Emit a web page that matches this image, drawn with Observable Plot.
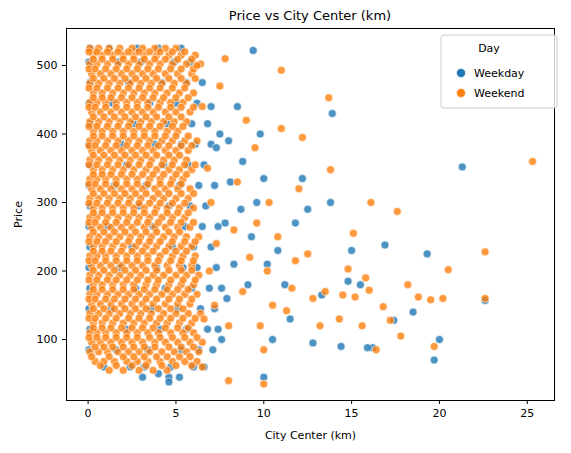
<!DOCTYPE html>
<html><head><meta charset="utf-8">
<script src="https://cdn.jsdelivr.net/npm/d3@7"></script>
<script src="https://cdn.jsdelivr.net/npm/@observablehq/plot@0.6"></script>
<style>body{margin:0;background:#fff;font-family:"DejaVu Sans",sans-serif}</style>
</head><body><div id="chart"></div>
<script>
const categories = ["Weekday", "Weekend"];
const colors = ["#1f77b4", "#ff7f0e"];
const xTicks = [0, 5, 10, 15, 20, 25];
const yTicks = [100, 200, 300, 400, 500];

// Dense weekday cloud: [price, [distances...]]
const weekdayRows = [
  [45,[3.1,4.6,5.2]],[60,[0.9,2.4,3.2,4.7,6.0,6.6]],[85,[0.05,1.6,3.4,5.3,6.3,7.1]],
  [115,[0.1,2.2,4.1,5.6,6.8,7.4]],[145,[0.05,1.3,3.6,5.1,6.4,7.2]],[175,[0.1,2.7,4.4,5.9,6.9,7.6]],
  [205,[0.05,1.8,3.9,5.4,6.2,7.3]],[235,[0.1,2.5,4.8,6.0,7.0]],[265,[0.05,1.1,3.7,5.5,6.5,7.4]],
  [295,[0.1,2.9,4.6,5.8,6.7]],[325,[0.05,1.5,3.3,5.2,6.3,7.2]],[355,[0.1,2.2,4.3,5.7,6.6]],
  [385,[0.05,1.9,3.8,5.3,6.1,7.0]],[415,[0.1,2.6,4.5,5.9,6.8]],[445,[0.05,1.4,3.5,5.0,6.2]],
  [475,[0.1,2.3,4.2,5.6,6.5]],[505,[0.05,1.7,3.0,4.9,5.8]],[525,[0.1,1.2,2.8,4.0,5.3]]
];
// Dense weekend cloud: [price, [distances...]]
const weekendRows = [
  [55,[1.2,2.0,2.9,3.7,4.5]],[68,[0.4,0.9,1.5,2.2,2.8,3.4,4.1,4.8,5.5,6.2]],
  [82,[0.1,0.6,1.1,1.7,2.3,2.9,3.5,4.2,4.9,5.6,6.3]],[96,[0.2,0.7,1.3,1.9,2.5,3.1,3.8,4.4,5.1,5.8,6.5]],
  [110,[0.1,0.5,1.0,1.6,2.2,2.8,3.4,4.0,4.7,5.4,6.0]],[124,[0.3,0.8,1.4,2.0,2.6,3.2,3.9,4.5,5.2,5.9]],
  [138,[0.1,0.6,1.2,1.8,2.4,3.0,3.6,4.3,5.0,5.7,6.4]],[152,[0.2,0.7,1.3,1.9,2.5,3.1,3.7,4.4,5.1,5.8]],
  [166,[0.1,0.5,1.1,1.7,2.3,2.9,3.5,4.2,4.8,5.5,6.2]],[180,[0.3,0.8,1.4,2.0,2.6,3.3,3.9,4.6,5.3,6.0]],
  [194,[0.1,0.6,1.2,1.8,2.4,3.0,3.7,4.3,5.0,5.6,6.3]],[208,[0.2,0.7,1.3,1.9,2.5,3.1,3.8,4.5,5.2,5.9]],
  [222,[0.1,0.5,1.0,1.6,2.2,2.8,3.4,4.1,4.8,5.4,6.1]],[236,[0.3,0.8,1.4,2.0,2.7,3.3,3.9,4.6,5.3,5.9]],
  [250,[0.1,0.6,1.2,1.8,2.4,3.0,3.6,4.3,4.9,5.6,6.3]],[264,[0.2,0.7,1.3,1.9,2.5,3.2,3.8,4.4,5.1,5.8]],
  [278,[0.1,0.5,1.1,1.7,2.3,2.9,3.5,4.2,4.8,5.5]],[292,[0.3,0.8,1.4,2.0,2.6,3.2,3.9,4.5,5.2,6.0]],
  [306,[0.1,0.6,1.2,1.8,2.4,3.0,3.7,4.3,5.0,5.7]],[320,[0.2,0.7,1.3,1.9,2.5,3.1,3.8,4.4,5.1,5.8]],
  [334,[0.1,0.5,1.0,1.6,2.2,2.8,3.5,4.1,4.8,5.4]],[348,[0.3,0.8,1.4,2.0,2.6,3.3,3.9,4.6,5.2,5.9]],
  [362,[0.1,0.6,1.2,1.8,2.4,3.0,3.6,4.3,4.9,5.6]],[376,[0.2,0.7,1.3,1.9,2.5,3.1,3.7,4.4,5.0,5.7]],
  [390,[0.1,0.5,1.1,1.7,2.3,2.9,3.5,4.2,4.8,5.5,6.2]],[404,[0.3,0.8,1.4,2.0,2.6,3.2,3.8,4.5,5.1]],
  [418,[0.1,0.6,1.2,1.8,2.4,3.0,3.6,4.3,4.9,5.6]],[432,[0.2,0.7,1.3,1.9,2.5,3.1,3.7,4.4,5.0,5.8]],
  [446,[0.1,0.5,1.0,1.6,2.2,2.8,3.4,4.1,4.7,5.4]],[460,[0.3,0.8,1.4,2.0,2.6,3.2,3.8,4.5,5.2,6.0]],
  [474,[0.1,0.6,1.2,1.8,2.4,3.0,3.6,4.2,4.9,5.6]],[488,[0.2,0.7,1.3,1.9,2.5,3.1,3.7,4.4,5.1,5.9]],
  [502,[0.1,0.5,1.1,1.7,2.3,2.9,3.5,4.1,4.8,5.6,6.4]],[515,[0.3,0.8,1.4,2.0,2.6,3.2,3.9,4.6,5.3,6.1]],
  [525,[0.1,0.6,1.2,1.8,2.5,3.1,3.8,4.4,5.0]]
];
// Second weekend layer filling gaps
const weekendRowsB = [
  [62,[0.7,1.6,2.5,3.3,4.2,5.0,5.9]],[75,[0.2,1.2,2.0,2.6,3.2,3.9,4.5,5.2,5.8]],
  [89,[0.4,0.9,1.4,2.0,2.6,3.2,3.8,4.6,5.3,6.0]],[103,[0.05,0.5,1.0,1.6,2.2,2.8,3.5,4.1,4.8,5.5,6.2]],
  [117,[0.3,0.8,1.3,1.9,2.5,3.1,3.7,4.4,5.1,5.7]],[131,[0.05,0.4,1.0,1.6,2.3,2.9,3.5,4.1,4.7,5.4,6.1]],
  [145,[0.3,0.9,1.5,2.1,2.7,3.3,4.0,4.7,5.4]],[159,[0.05,0.4,1.0,1.5,2.1,2.7,3.3,3.9,4.6,5.2,5.9]],
  [173,[0.3,0.8,1.4,2.0,2.6,3.2,3.8,4.5,5.1,5.7]],[187,[0.05,0.5,1.1,1.6,2.2,2.8,3.4,4.0,4.7,5.4,6.1]],
  [201,[0.3,0.9,1.5,2.1,2.7,3.3,3.9,4.6,5.3,5.9]],[215,[0.05,0.4,1.0,1.6,2.2,2.8,3.4,4.0,4.7,5.3,6.0]],
  [229,[0.3,0.8,1.3,1.9,2.5,3.1,3.7,4.4,5.0,5.6]],[243,[0.05,0.5,1.0,1.6,2.3,2.9,3.5,4.1,4.8,5.5,6.1]],
  [257,[0.3,0.9,1.5,2.1,2.7,3.3,3.9,4.6,5.2]],[271,[0.05,0.4,1.0,1.6,2.2,2.8,3.4,4.0,4.7,5.3,6.0]],
  [285,[0.3,0.8,1.4,2.0,2.6,3.2,3.8,4.5,5.1,5.7]],[299,[0.05,0.5,1.1,1.7,2.3,2.9,3.5,4.1,4.8,5.5]],
  [313,[0.3,0.9,1.5,2.1,2.7,3.3,4.0,4.6,5.3,6.0]],[327,[0.05,0.4,1.0,1.6,2.2,2.8,3.4,4.1,4.7,5.3]],
  [341,[0.3,0.8,1.3,1.9,2.5,3.1,3.7,4.3,5.0,5.6]],[355,[0.05,0.5,1.1,1.7,2.3,2.9,3.5,4.2,4.8,5.5,6.1]],
  [369,[0.3,0.9,1.5,2.1,2.7,3.3,3.9,4.6,5.2]],[383,[0.05,0.4,1.0,1.6,2.2,2.8,3.4,4.0,4.6,5.3,5.9]],
  [397,[0.3,0.8,1.4,2.0,2.6,3.2,3.8,4.4,5.0,5.7]],[411,[0.05,0.5,1.1,1.7,2.3,2.9,3.5,4.1,4.8,5.4]],
  [425,[0.3,0.9,1.5,2.1,2.7,3.3,3.9,4.6,5.3]],[439,[0.05,0.4,1.0,1.6,2.2,2.8,3.4,4.0,4.7,5.3,6.0]],
  [453,[0.3,0.8,1.3,1.9,2.5,3.1,3.7,4.3,5.0,5.7]],[467,[0.05,0.5,1.1,1.7,2.3,2.9,3.5,4.1,4.8,5.5]],
  [481,[0.3,0.9,1.5,2.1,2.7,3.3,3.9,4.6,5.3,6.1]],[495,[0.05,0.4,1.0,1.6,2.2,2.8,3.4,4.0,4.7,5.3,6.0]],
  [509,[0.3,0.8,1.4,2.0,2.6,3.2,3.8,4.4,5.1,5.9]],[520,[0.05,0.5,1.1,1.7,2.3,2.9,3.5,4.1,4.8,5.5]]
];
// Sparse outliers [distance, price]
const weekdayPoints = [[21.3,352],[22.6,157],[20,100],[19.7,70],[19.3,225],[18.5,140],[17.4,128],[16.9,238],[16.2,88],[15.9,88],[15.5,180],[15,230],[14.8,185],[14.4,90],[13.9,430],[13.8,300],[13.3,165],[12.8,95],[12.5,290],[12.2,335],[11.8,270],[11.5,130],[11.2,180],[10.8,230],[10.5,100],[10.2,210],[10,45],[10,335],[9.8,400],[9.6,300],[9.4,522],[9.3,250],[9.1,180],[8.8,360],[8.7,290],[8.5,440],[8.3,210],[8.1,330],[7.8,270],[7.6,100],[7.5,400],[7.3,380],[7.0,440],[4.6,38],[4.0,50],[8.0,390],[7.9,160]];
const weekendPoints = [[25.3,360],[22.6,228],[22.6,160],[20.5,202],[20.2,160],[19.7,90],[19.5,158],[18.8,162],[18.2,180],[17.8,105],[17.6,287],[17.2,128],[16.8,148],[16.4,85],[16.1,300],[16,172],[15.8,190],[15.6,120],[15.2,162],[15.1,255],[14.8,203],[14.5,165],[14.3,130],[13.8,348],[13.7,453],[13.5,170],[13.2,120],[12.8,160],[12.5,225],[12.2,395],[12,320],[11.8,215],[11.6,175],[11.3,142],[11,408],[11,493],[10.8,250],[10.5,150],[10.3,300],[10.2,200],[10,35],[10,85],[9.8,120],[9.6,270],[9.5,380],[9.2,220],[9,420],[8.8,170],[8.5,330],[8.3,260],[8,120],[8,40],[7.8,510],[7.5,470],[7.2,150],[6.9,200],[6.5,60],[6.5,440],[6.2,500],[7.0,300],[6.8,350],[7.3,240],[6.6,130]];

const data = [];
weekdayRows.forEach(([p, xs]) => xs.forEach(x => data.push({x, y: p, day: "Weekday"})));
weekdayPoints.forEach(([x, y]) => data.push({x, y, day: "Weekday"}));
weekendRows.forEach(([p, xs]) => xs.forEach(x => data.push({x, y: p, day: "Weekend"})));
weekendRowsB.forEach(([p, xs]) => xs.forEach(x => data.push({x, y: p, day: "Weekend"})));
weekendPoints.forEach(([x, y]) => data.push({x, y, day: "Weekend"}));

const plot = Plot.plot({
  width: 571, height: 453,
  marginLeft: 66, marginRight: 17, marginTop: 28, marginBottom: 53,
  style: {fontFamily: "DejaVu Sans", fontSize: "11px", color: "#000"},
  x: {domain: [-1.23, 26.55], ticks: xTicks, tickSize: 4, label: "City Center (km)", labelAnchor: "center", labelArrow: "none", labelOffset: 38},
  y: {domain: [11, 554], ticks: yTicks, tickSize: 4, label: "Price", labelAnchor: "center", labelArrow: "none", labelOffset: 52},
  color: {domain: categories, range: colors},
  marks: [
    Plot.dot(data, {x: "x", y: "y", fill: "day", r: 4, fillOpacity: 0.8, stroke: "white", strokeWidth: 0.6}),
    Plot.frame({stroke: "#000"})
  ]
});
document.getElementById("chart").appendChild(plot);
const svg = d3.select(plot);
svg.selectAll("text").style("font-size", "11px");
svg.append("text").attr("x", 310).attr("y", 20).attr("text-anchor", "middle")
  .style("font-size", "13px").text("Price vs City Center (km)");
const lg = svg.append("g");
lg.append("rect").attr("x", 441).attr("y", 35).attr("width", 116).attr("height", 73)
  .attr("rx", 3).attr("fill", "white").attr("fill-opacity", 0.8).attr("stroke", "#ccc");
lg.append("text").attr("x", 489).attr("y", 52).attr("text-anchor", "middle").style("font-size", "11px").text("Day");
categories.forEach((c, i) => {
  lg.append("circle").attr("cx", 461).attr("cy", 73 + i * 20).attr("r", 4.5).attr("fill", colors[i]).attr("stroke", "white").attr("stroke-width", 0.6);
  lg.append("text").attr("x", 474).attr("y", 77 + i * 20).attr("text-anchor", "start").style("font-size", "11px").text(c);
});
</script></body></html>
